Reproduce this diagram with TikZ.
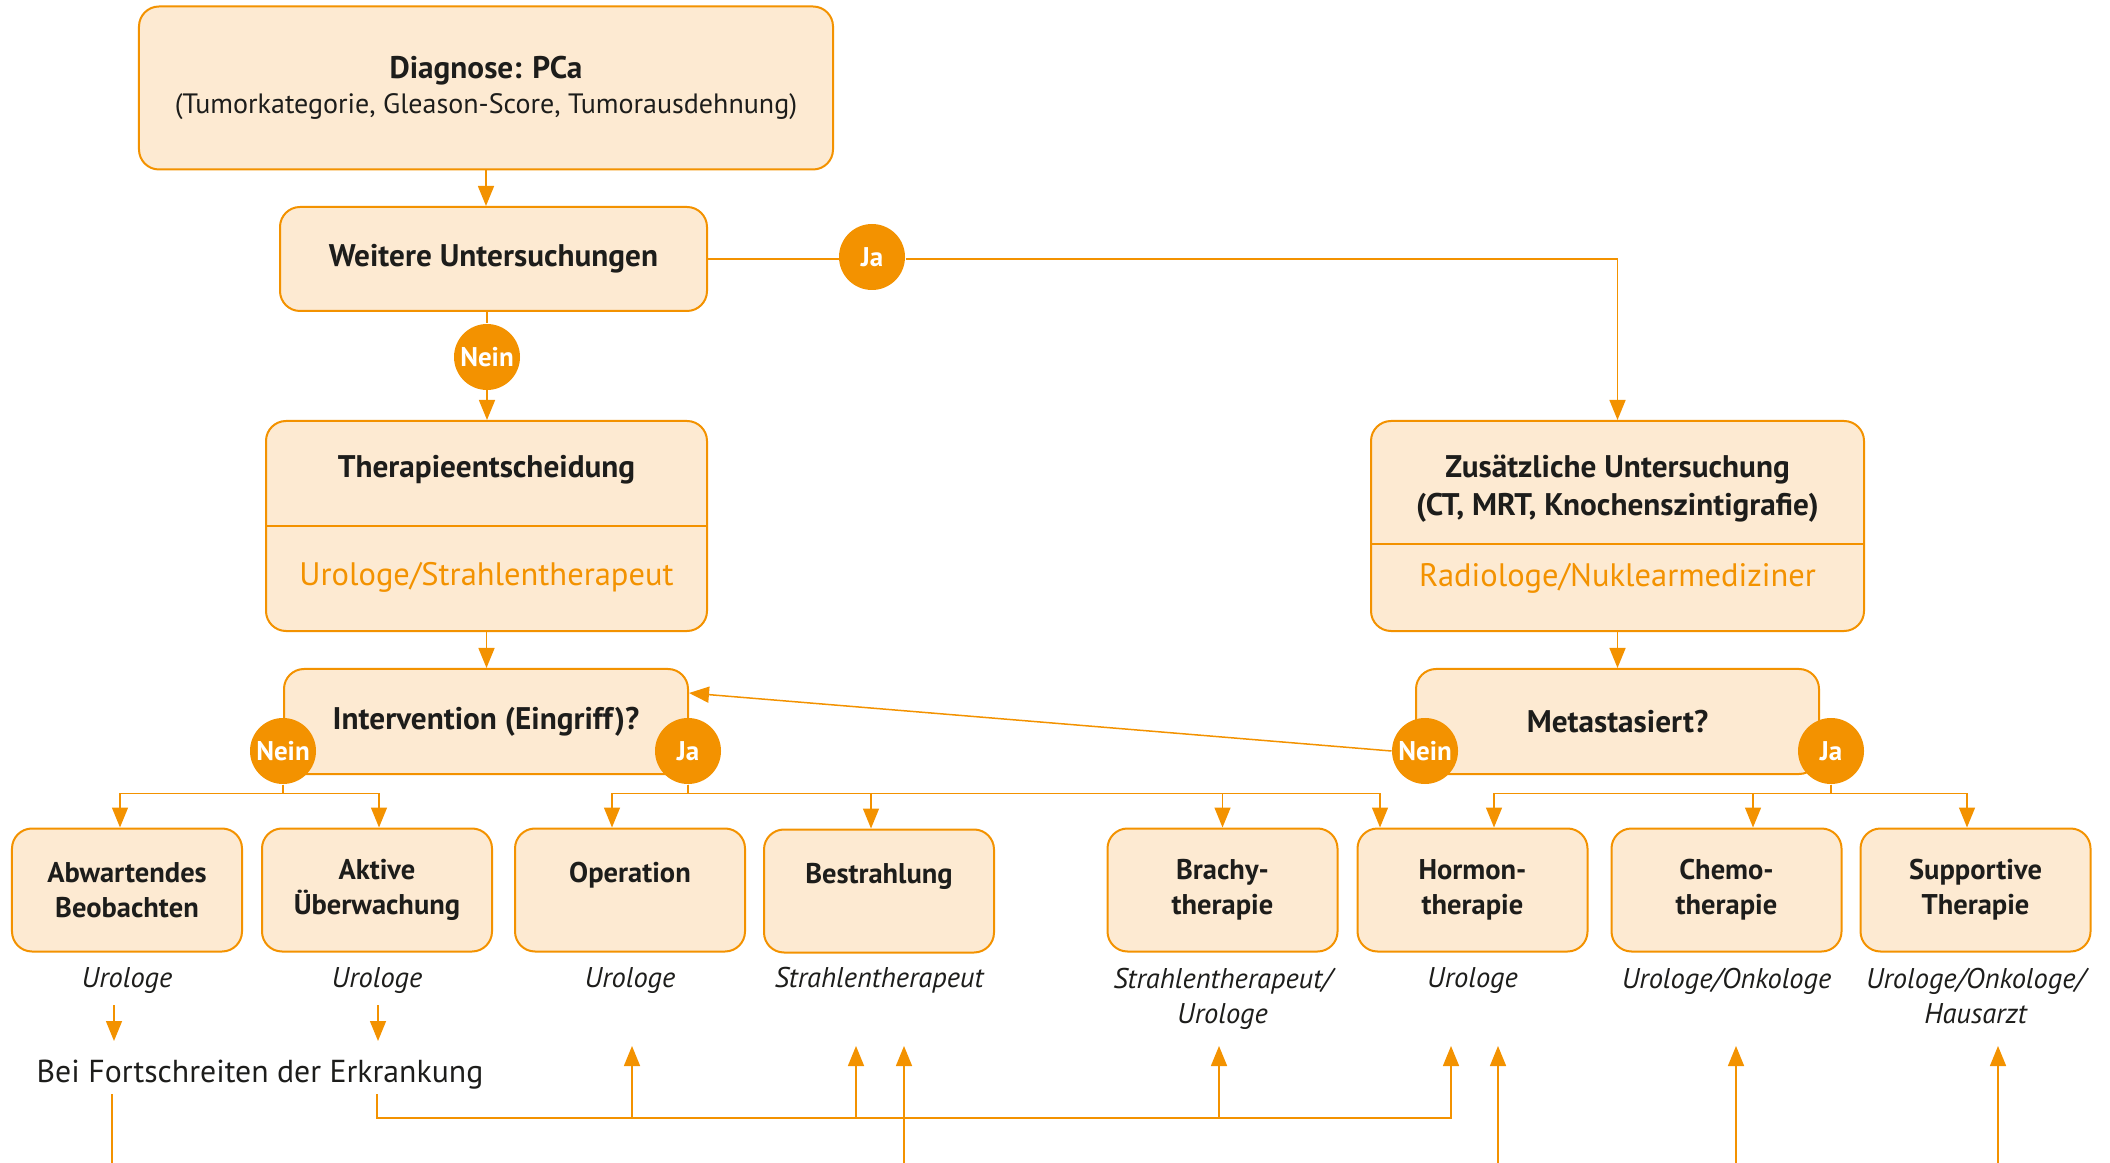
\documentclass[tikz,border=0pt]{standalone}
\usepackage{fontspec}
\setmainfont{PT Sans}
\usetikzlibrary{arrows.meta,positioning}

\definecolor{peach}{HTML}{FDEAD2}
\definecolor{ornge}{HTML}{F39200}
\definecolor{ink}{HTML}{1D1D1B}

\tikzset{
  box/.style={draw=ornge, line width=0.8pt, fill=peach, rounded corners=8pt,
    text=ink, align=center, inner sep=0pt},
  bigbox/.style={box, font=\bfseries\fontsize{12.5}{14.8}\selectfont},
  treat/.style={box, minimum width=92pt, minimum height=49.2pt,
    font=\bfseries\fontsize{11.4}{14}\selectfont},
  boxtext/.style={text=ink, align=center, inner sep=0pt,
    font=\bfseries\fontsize{12.5}{15.2}\selectfont},
  who/.style={text=ornge, inner sep=0pt, font=\fontsize{13}{14}\selectfont},
  role/.style={text=ink, align=center, inner sep=0pt,
    font=\itshape\fontsize{11.4}{14}\selectfont},
  answer/.style={circle, fill=ornge, text=white, minimum size=26.4pt,
    inner sep=0pt, font=\bfseries\fontsize{10.8}{12}\selectfont},
  edge/.style={draw=ornge, line width=0.6pt},
}

\begin{document}
\begin{tikzpicture}[x=0.4pt, y=-0.4pt, >={Triangle[width=6.4pt,length=8pt]}]
    \useasboundingbox (0,0) rectangle (2110,1163);

    % upper part
    \node[bigbox, minimum width=277.6pt, minimum height=65.2pt] (diag) at (486,88)
        {\raisebox{-1pt}{Diagnose: PCa}\\\mdseries\fontsize{11.2}{14}\selectfont(Tumorkategorie, Gleason-Score, Tumorausdehnung)};
    \node[bigbox, minimum width=170.8pt, minimum height=41.6pt] (weitere) at (493.5,259)
        {Weitere Untersuchungen};

    \node[box, minimum width=176.4pt, minimum height=84pt] (thera) at (486.5,526) {};
    \draw[edge] (thera.west) -- (thera.east);
    \node[boxtext] (theraT) at (486.5,470) {Therapieentscheidung};
    \node[who] (theraW) at (486.5,577) {Urologe/Strahlentherapeut};

    \node[box, minimum width=197.2pt, minimum height=84pt] (zus) at (1617.5,526) {};
    \draw[edge] ([yshift=-7.2pt]zus.west) -- ([yshift=-7.2pt]zus.east);
    \node[boxtext] (zusT) at (1617.5,489) {Zusätzliche Untersuchung\\(CT, MRT, Knochenszintigrafie)};
    \node[who] (zusW) at (1617.5,578) {Radiologe/Nuklearmediziner};

    \node[bigbox, minimum width=161.6pt, minimum height=42pt] (interv) at (486,721.5)
        {Intervention (Eingriff)?};
    \node[bigbox, minimum width=161.2pt, minimum height=42pt] (meta) at (1617.5,721.5)
        {Metastasiert?};

    % treatments
    \node[treat] (abw) at (127,890) {Abwartendes\\Beobachten};
    \node[treat] (akt) at (377,890) {Aktive\\Überwachung};
    \node[treat] (op)  at (630,890) {Operation\\~};
    \node[treat] (bes) at (879,891) {Bestrahlung\\~};
    \node[treat] (bra) at (1222.5,890) {Brachy-\\therapie};
    \node[treat] (hor) at (1472.5,890) {Hormon-\\therapie};
    \node[treat] (che) at (1726.5,890) {Chemo-\\therapie};
    \node[treat] (sup) at (1975.5,890) {Supportive\\Therapie};

    \node[role, below=6pt of abw] (abwR) {Urologe};
    \node[role, below=6pt of akt] (aktR) {Urologe};
    \node[role, below=6pt of op]  (opR)  {Urologe};
    \node[role, below=5.2pt of bes] (besR) {Strahlentherapeut};
    \node[role, below=6pt of bra] (braR) {Strahlentherapeut/\\Urologe};
    \node[role, below=6pt of hor] (horR) {Urologe};
    \node[role, below=6pt of che] (cheR) {Urologe/Onkologe};
    \node[role, below=6pt of sup] (supR) {Urologe/Onkologe/\\Hausarzt};

    \node[text=ink, inner sep=0pt, font=\fontsize{12.7}{14}\selectfont] (fort) at (260,1075)
        {Bei Fortschreiten der Erkrankung};

    % answers
    \node[answer] (nein1) at (487,357) {Nein};
    \node[answer] (ja1) at (872,257) {Ja};
    \node[answer] (nein2) at (283,751) {Nein};
    \node[answer] (ja2) at (688,751) {Ja};
    \node[answer] (nein3) at (1425,751) {Nein};
    \node[answer] (ja3) at (1831,751) {Ja};

    % connectors
    \draw[edge, ->] (diag.south) -- (diag.south |- weitere.north);
    \draw[edge] (weitere.south -| nein1) -- (nein1.north);
    \draw[edge, ->] (nein1.south) -- (nein1 |- thera.north);
    \draw[edge] (weitere.east) -- (weitere.east -| ja1.west);
    \draw[edge, ->] (weitere.east -| ja1.east) -| (zus.north);
    \draw[edge, ->] (thera.south) -- (thera.south |- interv.north);
    \draw[edge, ->] (zus.south) -- (zus.south |- meta.north);
    \draw[edge, ->] (nein3.west) -- ([yshift=11.4pt]interv.east);

    \draw[edge, ->] (nein2.south) -- ++(0,9) -| ([xshift=-2.8pt]abw.north);
    \draw[edge, ->] (nein2.south) -- ++(0,9) -| ([xshift=0.8pt]akt.north);

    \draw[edge, ->] (ja2.south) -- ++(0,9) -| ([xshift=-7.2pt]op.north);
    \draw[edge, ->] (ja2.south) -- ++(0,9) -| ([xshift=-3.2pt]bes.north);
    \draw[edge, ->] (ja2.south) -- ++(0,9) -| (bra.north);
    \draw[edge, ->] (ja2.south) -- ++(0,9) -| ([xshift=-37pt]hor.north);

    \draw[edge, ->] (ja3.south) -- ++(0,9) -| ([xshift=8.6pt]hor.north);
    \draw[edge, ->] (ja3.south) -- ++(0,9) -| ([xshift=10.6pt]che.north);
    \draw[edge, ->] (ja3.south) -- ++(0,9) -| ([xshift=-3.4pt]sup.north);

    % progression
    \coordinate (dropA) at (114,1005);
    \coordinate (dropB) at (378,1005);
    \coordinate (fortL) at (112,1094);
    \coordinate (fortR) at (377,1094);
    \coordinate (tipOp) at (632,1046);
    \coordinate (tipBesA) at (856,1046);
    \coordinate (tipBesB) at (904,1046);
    \coordinate (tipBra) at (1219,1046);
    \coordinate (tipHorA) at (1451,1046);
    \coordinate (tipHorB) at (1498,1046);
    \coordinate (tipChe) at (1736,1046);
    \coordinate (tipSup) at (1998,1046);

    \draw[edge, ->] (dropA) -- ++(0,36);
    \draw[edge, ->] (dropB) -- ++(0,36);
    \draw[edge] (fortL) -- (fortL |- 0,1163);
    \draw[edge, ->] (fortR) -- ++(0,24) -| (tipHorA);
    \draw[edge, ->] (tipOp |- 0,1118) -- (tipOp);
    \draw[edge, ->] (tipBesA |- 0,1118) -- (tipBesA);
    \draw[edge, ->] (tipBra |- 0,1118) -- (tipBra);
    \draw[edge, ->] (tipBesB |- 0,1163) -- (tipBesB);
    \draw[edge, ->] (tipHorB |- 0,1163) -- (tipHorB);
    \draw[edge, ->] (tipChe |- 0,1163) -- (tipChe);
    \draw[edge, ->] (tipSup |- 0,1163) -- (tipSup);
\end{tikzpicture}
\end{document}
